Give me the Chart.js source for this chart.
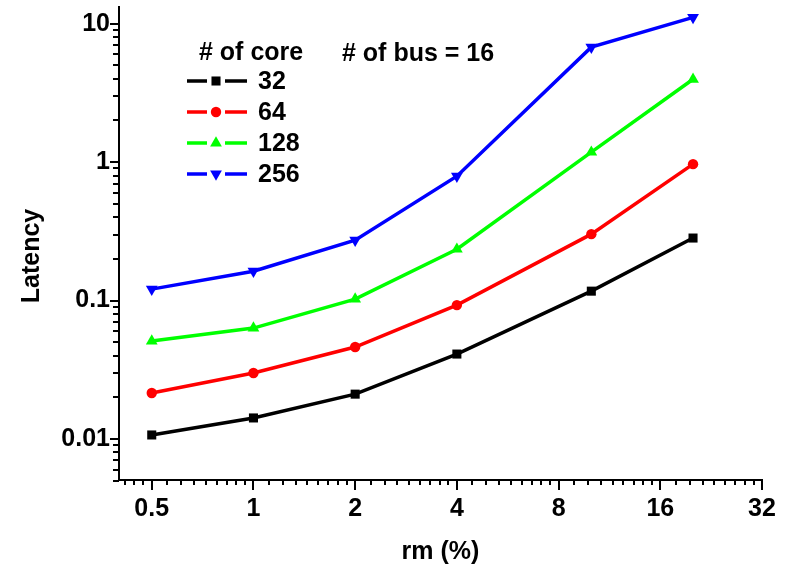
<!DOCTYPE html>
<html>
<head>
<meta charset="utf-8">
<script src="https://cdn.jsdelivr.net/npm/chart.js@4"></script>
<style>
  body { margin: 0; background: #fff; }
</style>
</head>
<body>
<canvas id="latency-chart" width="792" height="569"></canvas>
<script>
// rm (%) values and the four core counts
const rmValues = [0.5, 1, 2, 4, 10, 20];
const coreLabels = ['32', '64', '128', '256'];
const latency32 = [0.0107, 0.0142, 0.0211, 0.0411, 0.117, 0.283];
const latency64 = [0.0215, 0.030, 0.0462, 0.0928, 0.302, 0.967];
const latency128 = [0.051, 0.0633, 0.1025, 0.235, 1.18, 3.97];
const latency256 = [0.121, 0.163, 0.273, 0.792, 6.77, 11.1];

const xTicks = [0.5, 1, 2, 4, 8, 16, 32];
const xTickLabels = ['0.5', '1', '2', '4', '8', '16', '32'];
const yTicks = [0.01, 0.1, 1, 10];
const yTickLabels = ['0.01', '0.1', '1', '10'];

const FONT = 'bold 25px "Liberation Sans", Arial, sans-serif';
const fontOpt = { family: '"Liberation Sans", Arial, sans-serif', size: 25, weight: 'bold' };

const styles = [
    { color: '#000000', pointStyle: 'rect', radius: 6.4, rotation: 0 },
    { color: '#ff0000', pointStyle: 'circle', radius: 5.2, rotation: 0 },
    { color: '#00ff00', pointStyle: 'triangle', radius: 6.8, rotation: 0 },
    { color: '#0000ff', pointStyle: 'triangle', radius: 6.8, rotation: 180 }
];

const series = [latency32, latency64, latency128, latency256];

const datasets = series.map((vals, i) => ({
    label: coreLabels[i],
    data: rmValues.map((x, j) => ({ x: x, y: vals[j] })),
    borderColor: styles[i].color,
    backgroundColor: styles[i].color,
    borderWidth: 3.5,
    pointStyle: styles[i].pointStyle,
    pointRadius: styles[i].radius,
    pointRotation: styles[i].rotation,
    pointBorderWidth: 0,
    pointHoverRadius: styles[i].radius,
    tension: 0
}));

// minor tick marks, placed through the scales
function xMinor() {
    const out = [];
    for (let a = 0.25; a < 32; a *= 2) {
        for (let k = 1; k <= 8; k++) {
            const v = a + k * a / 9;
            if (v >= 0.4 && v <= 32) out.push(v);
        }
    }
    return out;
}
function yMinor() {
    const out = [];
    for (let d = 0.001; d < 20; d *= 10) {
        for (let k = 2; k <= 9; k++) {
            const v = d * k;
            if (v >= 0.005 && v <= 13.2) out.push(v);
        }
    }
    return out;
}

const minorTicks = {
    id: 'minorTicks',
    afterDraw(chart) {
        const ctx = chart.ctx;
        const xs = chart.scales.x, ys = chart.scales.y;
        const area = chart.chartArea;
        ctx.save();
        ctx.strokeStyle = '#000';
        ctx.lineWidth = 2;
        ctx.beginPath();
        xMinor().forEach(v => {
            const px = Math.round(xs.getPixelForValue(v));
            ctx.moveTo(px, area.bottom);
            ctx.lineTo(px, area.bottom + 5);
        });
        yMinor().forEach(v => {
            const py = Math.round(ys.getPixelForValue(v));
            ctx.moveTo(area.left, py);
            ctx.lineTo(area.left - 6, py);
        });
        ctx.stroke();
        ctx.restore();
    }
};

// legend block and the y axis title
const legendBox = {
    id: 'legendBox',
    afterDraw(chart) {
        const ctx = chart.ctx;
        ctx.save();
        ctx.font = FONT;
        ctx.fillStyle = '#000';
        ctx.textBaseline = 'middle';
        ctx.textAlign = 'left';
        ctx.fillText('# of core', 199, 53);
        ctx.fillText('# of bus = 16', 342, 54);
        chart.data.datasets.forEach((ds, i) => {
            const y = 81 + i * 31;
            ctx.strokeStyle = ds.borderColor;
            ctx.lineWidth = 3.5;
            ctx.beginPath();
            ctx.moveTo(187, y);
            ctx.lineTo(207, y);
            ctx.moveTo(225, y);
            ctx.lineTo(247, y);
            ctx.stroke();
            ctx.fillStyle = ds.backgroundColor;
            Chart.helpers.drawPoint(ctx, {
                pointStyle: ds.pointStyle,
                radius: ds.pointRadius,
                rotation: ds.pointRotation,
                borderWidth: 0
            }, 216, y);
            ctx.fillStyle = '#000';
            ctx.fillText(ds.label, 258, y + 1);
        });

        ctx.translate(32, 256);
        ctx.rotate(-Math.PI / 2);
        ctx.textAlign = 'center';
        ctx.fillText('Latency', 0, 0);
        ctx.restore();
    }
};

new Chart(document.getElementById('latency-chart'), {
    type: 'line',
    data: { datasets: datasets },
    options: {
        responsive: false,
        animation: false,
        layout: { padding: { top: 7, right: 30, left: 0, bottom: 0 } },
        plugins: {
            legend: { display: false },
            tooltip: { enabled: false }
        },
        scales: {
            x: {
                type: 'logarithmic',
                min: 0.4,
                max: 32,
                afterBuildTicks: (scale) => {
                    scale.ticks = xTicks.map(v => ({ value: v }));
                },
                afterFit: (scale) => {
                    scale.height = 89;
                    scale.paddingLeft = 0;
                    scale.paddingRight = 0;
                },
                ticks: {
                    autoSkip: false,
                    maxRotation: 0,
                    padding: 4,
                    color: '#000',
                    font: fontOpt,
                    callback: (v) => xTickLabels[xTicks.indexOf(v)]
                },
                grid: {
                    display: true,
                    drawOnChartArea: false,
                    drawTicks: true,
                    tickLength: 10,
                    color: '#000',
                    lineWidth: 2
                },
                border: { display: true, color: '#000', width: 2 },
                title: {
                    display: true,
                    text: 'rm (%)',
                    color: '#000',
                    font: fontOpt,
                    padding: { top: 0, bottom: 2 }
                }
            },
            y: {
                type: 'logarithmic',
                min: 0.00506,
                max: 13.2,
                afterBuildTicks: (scale) => {
                    scale.ticks = yTicks.map(v => ({ value: v }));
                },
                afterFit: (scale) => {
                    scale.width = 119;
                    scale.paddingTop = 0;
                    scale.paddingBottom = 0;
                },
                ticks: {
                    autoSkip: false,
                    padding: 0,
                    color: '#000',
                    font: fontOpt,
                    callback: (v) => yTickLabels[yTicks.indexOf(v)]
                },
                grid: {
                    display: true,
                    drawOnChartArea: false,
                    drawTicks: true,
                    tickLength: 9,
                    color: '#000',
                    lineWidth: 2
                },
                border: { display: true, color: '#000', width: 2 },
                title: { display: false }
            }
        }
    },
    plugins: [minorTicks, legendBox]
});
</script>
</body>
</html>
